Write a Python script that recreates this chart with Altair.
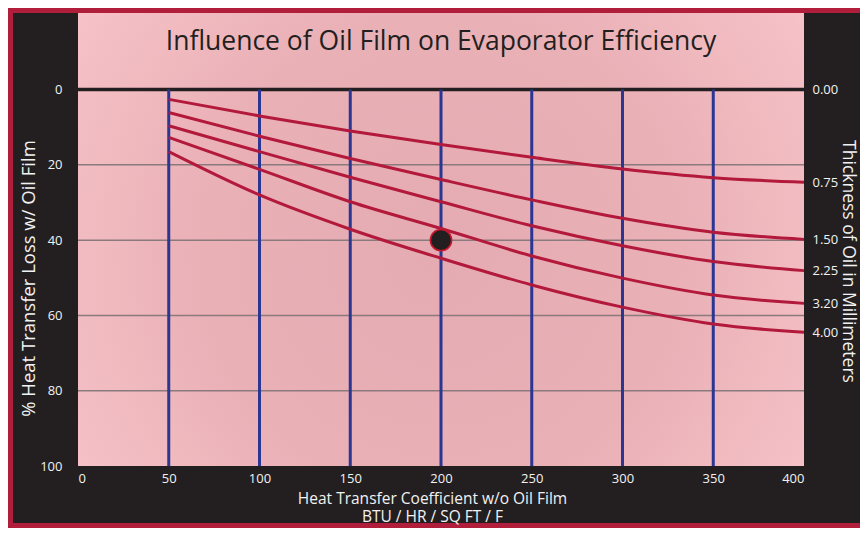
import altair as alt
import pandas as pd

# ---- data ----
x_vals = [50, 100, 150, 200, 250, 300, 350, 400]
loss_075 = [2.6, 7.0, 11.0, 14.6, 18.0, 21.1, 23.4, 24.6]
loss_150 = [6.1, 12.4, 18.3, 23.9, 29.3, 34.2, 37.9, 39.8]
loss_225 = [9.6, 16.5, 23.3, 29.8, 36.2, 41.5, 45.7, 48.1]
loss_320 = [12.7, 21.2, 29.8, 36.9, 44.2, 50.1, 54.6, 56.8]
loss_400 = [16.5, 28.0, 37.1, 44.8, 51.9, 57.8, 62.3, 64.5]
thickness_labels = ["0.75", "1.50", "2.25", "3.20", "4.00"]
series = [loss_075, loss_150, loss_225, loss_320, loss_400]

y_ticks = [0, 20, 40, 60, 80, 100]
x_ticks = [0, 50, 100, 150, 200, 250, 300, 350, 400]
h_grid = [20, 40, 60, 80]
v_grid = [50, 100, 150, 200, 250, 300, 350]
zero_line = [0]
dot_x = [200]
dot_y = [40]
right_ticks = [0.0] + [s[-1] for s in series]
right_labels = ["0.00"] + thickness_labels

# ---- tables ----
rows = []
for lab, s in zip(thickness_labels, series):
    for xv, yv in zip(x_vals, s):
        rows.append({"x": xv, "y": yv, "thickness": lab})
curves_df = pd.DataFrame(rows)
hgrid_df = pd.DataFrame({"y": h_grid})
zero_df = pd.DataFrame({"y": zero_line})
vgrid_df = pd.DataFrame({"x": v_grid, "y0": [0] * len(v_grid), "y1": [100] * len(v_grid)})
dot_df = pd.DataFrame({"x": dot_x, "y": dot_y})
one = pd.DataFrame({"a": [0]})

W, H = 726, 454
FONT = "Open Sans"
DARK = "#231f20"
RED = "#b3193b"
BLUE = "#2b3592"

xs = alt.Scale(domain=[0, 400], nice=False, zero=False)
ys = alt.Scale(domain=[-20.6, 100], reverse=True, nice=False, zero=False)

label_expr = " : ".join(
    f"abs(datum.value - {v}) < 0.01 ? '{l}'" for v, l in zip(right_ticks, right_labels)
) + " : ''"

grad = alt.RadialGradient(
    gradient="radial",
    x1=0.5, y1=0.52, r1=0.0,
    x2=0.5, y2=0.52, r2=0.72,
    stops=[
        alt.GradientStop(offset=0.0, color="#e5abb2"),
        alt.GradientStop(offset=0.45, color="#e9b0b6"),
        alt.GradientStop(offset=1.0, color="#fccbcf"),
    ],
)

bg = alt.Chart(one).mark_rect(fill=grad).encode(
    x=alt.value(0), x2=alt.value(W), y=alt.value(0), y2=alt.value(H)
)

hgrid = alt.Chart(hgrid_df).mark_rule(color="#8a7a7d", strokeWidth=1.5).encode(
    y=alt.Y("y:Q", scale=ys, axis=alt.Axis(
        values=y_ticks, orient="left", title="% Heat Transfer Loss w/ Oil Film",
        labelPadding=16, titleX=-50, titleY=266, titleAlign="center",
        titleBaseline="middle", titleAngle=270, titleFontSize=18.5,
    )),
)

zl = alt.Chart(zero_df).mark_rule(color=DARK, strokeWidth=3.5).encode(
    y=alt.Y("y:Q", scale=ys, axis=None),
)

vgrid = alt.Chart(vgrid_df).mark_rule(color=BLUE, strokeWidth=3).encode(
    x=alt.X("x:Q", scale=xs, axis=alt.Axis(
        values=x_ticks, orient="bottom",
        title=["Heat Transfer Coefficient w/o Oil Film", "BTU / HR / SQ FT / F"],
        labelPadding=6, titleX=354, titleY=25, titleBaseline="top",
        titleAlign="center", titleLineHeight=18, titleFontSize=15.5,
        zindex=1,
    )),
    y=alt.Y("y0:Q", scale=ys, axis=None),
    y2="y1:Q",
)

curves = alt.Chart(curves_df).mark_line(
    color=RED, strokeWidth=3, interpolate="monotone"
).encode(
    x=alt.X("x:Q", scale=xs, axis=None),
    y=alt.Y("y:Q", scale=ys, axis=alt.Axis(
        values=right_ticks, orient="right", labelExpr=label_expr,
        title="Thickness of Oil in Millimeters", labelPadding=8,
        titleAngle=90, titleX=43, titleY=249, titleAlign="center",
        titleBaseline="middle", titleFontSize=17.5,
    )),
    detail="thickness:N",
)

dot = alt.Chart(dot_df).mark_point(
    filled=True, fill=DARK, stroke="#c8162e", strokeWidth=1.5, size=450, opacity=1,
    shape="circle",
).encode(
    x=alt.X("x:Q", scale=xs, axis=None),
    y=alt.Y("y:Q", scale=ys, axis=None),
)

border = alt.Chart(one).mark_rect(
    fill="transparent", stroke="#b01e3b", strokeWidth=5
).encode(
    x=alt.value(-67.5), x2=alt.value(W + 140), y=alt.value(-1.5), y2=alt.value(H + 59.5)
)

chart = alt.layer(bg, hgrid, zl, vgrid, curves, dot, border).resolve_scale(
    x="shared", y="shared"
).resolve_axis(
    x="independent", y="independent"
).properties(
    width=W,
    height=H,
    autosize=alt.AutoSizeParams(type="none"),
    padding={"left": 70, "top": 4, "right": 56, "bottom": 62},
    title=alt.TitleParams(
        "Influence of Oil Film on Evaporator Efficiency",
        anchor="middle", offset=-47, fontSize=26.5, font=FONT,
        fontWeight="normal", color=DARK,
    ),
).configure(
    background=DARK,
).configure_view(
    stroke=None,
).configure_axis(
    domain=False, ticks=False, grid=False,
    labelColor="#f2f2f2", labelFont=FONT, labelFontSize=13,
    titleColor="#f2f2f2", titleFont=FONT, titleFontWeight="normal",
)

chart.save("out.html", embed_options={"renderer": "svg", "actions": False})
